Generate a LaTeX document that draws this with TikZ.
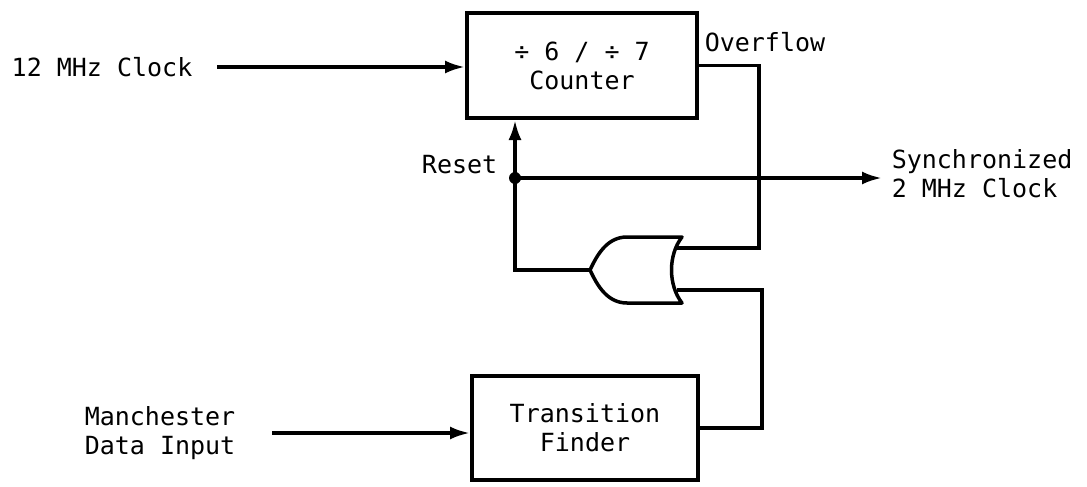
\documentclass[tikz,border=0pt]{standalone}
\usepackage{fontspec}
\setmonofont{DejaVu Sans Mono}
\usetikzlibrary{arrows.meta}
\tikzset{
  lbl/.style={font=\ttfamily\fontsize{25}{29}\selectfont, inner sep=0pt},
  block/.style={draw, lbl, align=center, line width=4pt},
  sig/.style={-{Latex[length=20pt,width=13pt]}}
}
\begin{document}
\begin{tikzpicture}[x=1pt, y=-1pt, line width=3.5pt]
\useasboundingbox (0,0) rectangle (1087,487);
% blocks
\node[block, minimum width=230pt, minimum height=105pt] (counter) at (582,65.5) {\char"00F7\ 6 / \char"00F7\ 7\\Counter};
\node[block, minimum width=226pt, minimum height=104pt] (finder) at (585,428) {Transition\\Finder};
% labels
\node[lbl, anchor=west] (clk) at (10,67) {12 MHz Clock};
\node[lbl, anchor=west] (ovf) at (703,42) {Overflow};
\node[lbl, anchor=east] (rst) at (499,165) {Reset};
\node[lbl, anchor=west, align=left] (sync) at (890,174) {Synchronized\\2 MHz Clock};
\node[lbl, anchor=west, align=left] (data) at (83,433) {Manchester\\Data Input};
% or gate
\coordinate (orin1) at (677,248);
\coordinate (orin2) at (677,290);
\coordinate (orout) at (590,270);
\coordinate (dot) at (515,178);
\draw[line join=round] (682,237) .. controls (668,255) and (668,285) .. (682,303) -- (627,303)
  .. controls (607,303) and (597,285) .. (orout) .. controls (597,255) and (607,237) .. (627,237) -- cycle;
% connections
\draw[sig] ([xshift=23pt]clk.east) -- (clk -| counter.west);
\draw[sig] ([xshift=35pt]data.east) -- (data -| finder.west);
\draw (counter.east) -- ++(60,0) |- (orin1);
\draw (finder.east) -- ++(62,0) |- (orin2);
\draw[sig] (orout) -| (dot) -- (dot |- counter.south);
\draw[sig] (dot) -- ([xshift=-8pt]dot -| sync.west);
\fill (dot) circle (6pt);
\end{tikzpicture}
\end{document}
